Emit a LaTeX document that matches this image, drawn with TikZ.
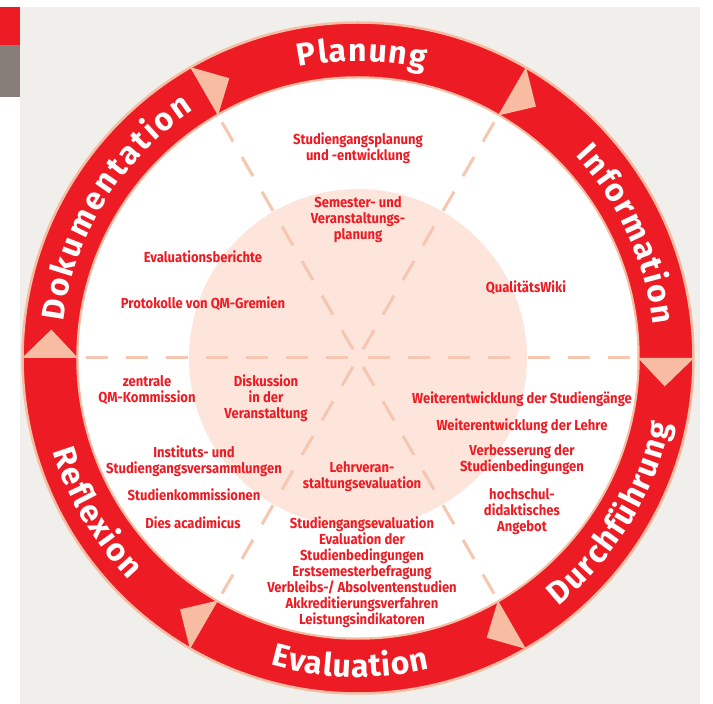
\documentclass[tikz,border=0pt]{standalone}
\usepackage{fontspec}
\usetikzlibrary{decorations.text}
\newfontfamily\ringfont{Fira Sans}
\newfontfamily\itemfont{Fira Sans}[FakeStretch=0.9]
\definecolor{qmred}{HTML}{ED1C24}
\definecolor{qmpale}{HTML}{F8BCA3}
\definecolor{qmdash}{HTML}{F7C6B1}
\definecolor{qmdisk}{HTML}{FDE5DB}
\definecolor{qmback}{HTML}{F0EFEC}
\definecolor{qmgray}{HTML}{877D79}
\tikzset{
  item/.style={text=qmred,font=\itemfont\bfseries\fontsize{14.5}{16}\selectfont,align=center,inner sep=0pt},
  spoke/.style={draw=qmdash,line width=3pt,dash pattern=on 22pt off 18pt},
  phase/.style={decorate,decoration={text along path,text color=white,text align={fit to path},
    text={|\ringfont\bfseries\fontsize{32}{32}\selectfont|#1}}}
}
\begin{document}
\begin{tikzpicture}[x=1pt,y=1pt]
\useasboundingbox (-358,-346) rectangle (355,358);
% page background and side marks
\fill[qmback] (-338,-346) rectangle (342,351);
\fill[qmred] (-358,313) rectangle (-338,351);
\fill[qmgray] (-358,261) rectangle (-338,313);
% ring, inner field and core disk
\fill[qmred,even odd rule] (0,0) circle (335) (0,0) circle (281);
\draw[qmpale,line width=2.5pt] (0,0) circle (335.5) (0,0) circle (280.5);
\fill[white] (0,0) circle (279.5);
\fill[qmdisk] (0,0) circle (169);
\coordinate (O) at (0,0);
\foreach \a in {0,60,...,300}{
  \draw[spoke] (\a:10) -- (\a:279);
  \fill[qmpale] (\a:280) -- (\a:336) -- (\a-5.3:308) -- cycle;
}
% phase names along the ring
\path[phase=Planung] (101.5:297) arc[start angle=101.5,end angle=77,radius=297];
\path[phase=Information] (43:297) arc[start angle=43,end angle=6.5,radius=297];
\path[phase=Durchführung] (-51:319) arc[start angle=-51,end angle=-12,radius=319];
\path[phase=Evaluation] (-106:319) arc[start angle=-106,end angle=-77,radius=319];
\path[phase=Reflexion] (197:319) arc[start angle=197,end angle=224,radius=319];
\path[phase=Dokumentation] (173:297) arc[start angle=173,end angle=123.5,radius=297];
% entries
\node[item] (studplan) at (0,210) {Studiengangsplanung\\und -entwicklung};
\node[item] (semester) at (0,138) {Semester- und\\Veranstaltungs-\\planung};
\node[item] (evalber) at (-155,101) {Evaluationsberichte};
\node[item] (protokolle) at (-155,54) {Protokolle von QM-Gremien};
\node[item] (wiki) at (168,70) {QualitätsWiki};
\node[item] (zentrale) at (-211,-32) {zentrale\\QM-Kommission};
\node[item] (diskussion) at (-92,-40) {Diskussion\\in der\\Veranstaltung};
\node[item] (institut) at (-164,-103) {Instituts- und\\Studiengangsversammlungen};
\node[item] (kommission) at (-164,-137) {Studienkommissionen};
\node[item] (dies) at (-165,-165) {Dies acadimicus};
\node[item] (lehrveran) at (4,-119) {Lehrveran-\\staltungsevaluation};
\node[item] (studeval) at (4,-214) {Studiengangsevaluation\\Evaluation der\\Studienbedingungen\\Erstsemesterbefragung\\Verbleibs-/ Absolventenstudien\\Akkreditierungsverfahren\\Leistungsindikatoren};
\node[item] (weiterstud) at (164,-41) {Weiterentwicklung der Studiengänge};
\node[item] (weiterlehre) at (164,-68) {Weiterentwicklung der Lehre};
\node[item] (verbesserung) at (164,-102) {Verbesserung der\\Studienbedingungen};
\node[item] (hochschul) at (164,-154) {hochschul-\\didaktisches\\Angebot};
\end{tikzpicture}
\end{document}
